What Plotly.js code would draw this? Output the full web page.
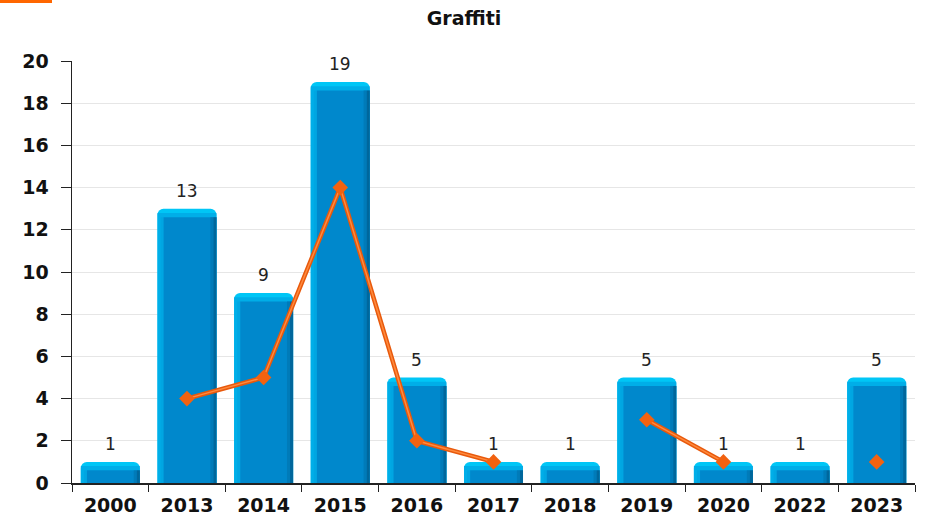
<!DOCTYPE html>
<html>
<head>
<meta charset="utf-8">
<script src="https://cdn.plot.ly/plotly-3.0.1.min.js"></script>
<style>html,body{margin:0;padding:0;background:#fff;}#chart{width:928px;height:517px;}</style>
</head>
<body>
<div id="chart"></div>
<script>
const categories = ["2000","2013","2014","2015","2016","2017","2018","2019","2020","2022","2023"];
const barValues = [1,13,9,19,5,1,1,5,1,1,5];
const lineValues = [null,4,5,14,2,1,null,3,1,null,1];
const yTicks = [0,2,4,6,8,10,12,14,16,18,20];

const W = 0.77, CAP = 0.4;
const bodyH = barValues.map(v => Math.max(v - CAP, 0));
const capMidH = barValues.map(v => Math.max(v - CAP/2, 0));

const traces = [
  { type:'bar', x:categories, y:barValues, width:W, offset:-W/2,
    marker:{color:'#00c6f6', cornerradius:6}, hoverinfo:'skip', showlegend:false },
  { type:'bar', x:categories, y:capMidH, width:W, offset:-W/2,
    marker:{color:'#00aee8'}, hoverinfo:'skip', showlegend:false },
  { type:'bar', x:categories, y:bodyH, width:0.04, offset:-W/2+0.04,
    marker:{color:'#00a6e2'}, hoverinfo:'skip', showlegend:false },
  { type:'bar', x:categories, y:bodyH, width:W-0.08, offset:-W/2+0.08,
    marker:{color:'#0088cc'}, hoverinfo:'skip', showlegend:false },
  { type:'bar', x:categories, y:bodyH, width:0.04, offset:W/2-0.08,
    marker:{color:'#007bb9'}, hoverinfo:'skip', showlegend:false },
  { type:'bar', x:categories, y:bodyH, width:0.04, offset:W/2-0.04,
    marker:{color:'#00679c'}, hoverinfo:'skip', showlegend:false },
  { type:'scatter', mode:'lines', x:categories, y:lineValues, connectgaps:false,
    line:{color:'#e8590c', width:4.5}, hoverinfo:'skip', showlegend:false },
  { type:'scatter', mode:'lines+markers', x:categories, y:lineValues, connectgaps:false,
    line:{color:'#ff8a3d', width:1.5},
    marker:{symbol:'diamond', size:12, color:'#f26210'}, showlegend:false }
];

const annotations = categories.map((c,i) => ({
  x:i, y:barValues[i], xref:'x', yref:'y', text:String(barValues[i]),
  showarrow:false, yanchor:'bottom', yshift:6,
  font:{family:'DejaVu Sans', size:17, color:'#222'}
}));

const layout = {
  width:928, height:517,
  margin:{l:72, r:13, t:61, b:34},
  paper_bgcolor:'#fff', plot_bgcolor:'#fff',
  barmode:'overlay',
  title:{text:'<b>Graffiti</b>', x:0.5, xref:'container', y:1-18/517, yref:'container', yanchor:'middle',
    font:{family:'DejaVu Sans', size:19, color:'#111'}},
  xaxis:{type:'category', range:[-0.5, categories.length-0.5], autorange:false,
    tickson:'boundaries', ticks:'outside', ticklen:7, tickcolor:'#222', ticklabelstandoff:5,
    showline:true, linecolor:'#222', linewidth:1.5, showgrid:false, zeroline:false, tickangle:0,
    tickfont:{family:'DejaVu Sans', size:19, color:'#111', weight:'bold'}},
  yaxis:{range:[0,20], autorange:false, tickvals:yTicks, ticks:'outside', ticklen:10, tickcolor:'#222',
    showline:true, linecolor:'#222', linewidth:1.5, showgrid:true, gridcolor:'#e6e6e6',
    zeroline:false, ticklabelstandoff:8,
    tickfont:{family:'DejaVu Sans', size:19, color:'#111', weight:'bold'}},
  annotations:annotations,
  shapes:[{type:'rect', xref:'paper', yref:'paper', x0:-72/843, x1:-20/843, y0:1+58/422, y1:1+61/422,
    fillcolor:'#ff6600', line:{width:0}}]
};

Plotly.newPlot('chart', traces, layout, {displayModeBar:false, staticPlot:true});
</script>
</body>
</html>
